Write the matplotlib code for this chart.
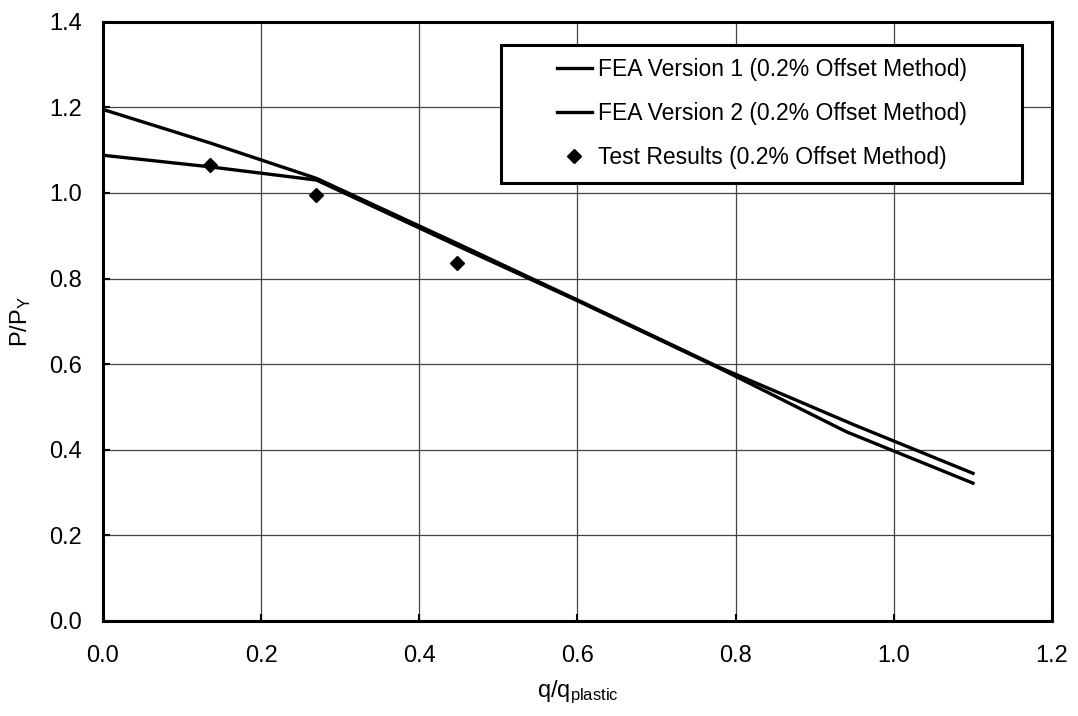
import matplotlib
matplotlib.use("Agg")
import matplotlib.pyplot as plt
from matplotlib.patches import Rectangle

plt.rcParams['font.family'] = ['Liberation Sans', 'DejaVu Sans']
plt.rcParams['mathtext.default'] = 'regular'

# FEA curves (0.2% offset method)
fea1_q = [0.0, 0.135, 0.27, 0.45, 0.60, 0.78, 0.95, 1.10]
fea1_p = [1.195, 1.117, 1.034, 0.880, 0.750, 0.592, 0.458, 0.345]

fea2_q = [0.0, 0.135, 0.27, 0.45, 0.60, 0.78, 0.94, 1.10]
fea2_p = [1.088, 1.061, 1.030, 0.875, 0.748, 0.590, 0.442, 0.322]

# Test results (0.2% offset method)
test_q = [0.135, 0.269, 0.448]
test_p = [1.065, 0.994, 0.837]

x_ticks = [0.0, 0.2, 0.4, 0.6, 0.8, 1.0, 1.2]
y_ticks = [0.0, 0.2, 0.4, 0.6, 0.8, 1.0, 1.2, 1.4]

fig = plt.figure(figsize=(10.78, 7.16), dpi=100)
ax = fig.add_axes([0.0955, 0.1327, 0.8804, 0.837])

ax.plot(fea1_q, fea1_p, color='black', lw=2.4, label='FEA Version 1 (0.2% Offset Method)', zorder=3)
ax.plot(fea2_q, fea2_p, color='black', lw=2.4, label='FEA Version 2 (0.2% Offset Method)', zorder=3)
ax.plot(test_q, test_p, linestyle='none', marker='D', markersize=7.5, color='black',
        label='Test Results (0.2% Offset Method)', zorder=4)

ax.set_xlim(0, 1.2)
ax.set_ylim(0, 1.4)
ax.set_xticks(x_ticks)
ax.set_yticks(y_ticks)
ax.set_xticklabels([f"{v:.1f}" for v in x_ticks])
ax.set_yticklabels([f"{v:.1f}" for v in y_ticks])

ax.grid(True, color='#444444', lw=0.9)
ax.set_axisbelow(True)

for s in ax.spines.values():
    s.set_linewidth(2.2)
    s.set_color('black')

ax.tick_params(axis='both', direction='in', length=5, width=1.5, labelsize=17)
ax.tick_params(axis='x', pad=17)
ax.tick_params(axis='y', pad=15)

ax.set_xlabel('q/q$_{plastic}$', fontsize=17, labelpad=9)
ax.set_ylabel('P/P$_{Y}$', fontsize=17, labelpad=12)

# legend frame drawn as its own box so the padding around the entries can be set freely
frame = Rectangle((0.419, 0.731), 0.549, 0.230, transform=ax.transAxes,
                  facecolor='white', edgecolor='black', lw=2.2, zorder=5)
ax.add_patch(frame)

leg = ax.legend(loc='upper left', bbox_to_anchor=(0.478, 0.939), fontsize=16.5,
                frameon=False, handlelength=1.55, handletextpad=0.25,
                labelspacing=0.92, borderpad=0, borderaxespad=0)
leg.set_zorder(6)

fig.savefig('out.png', dpi=100)
